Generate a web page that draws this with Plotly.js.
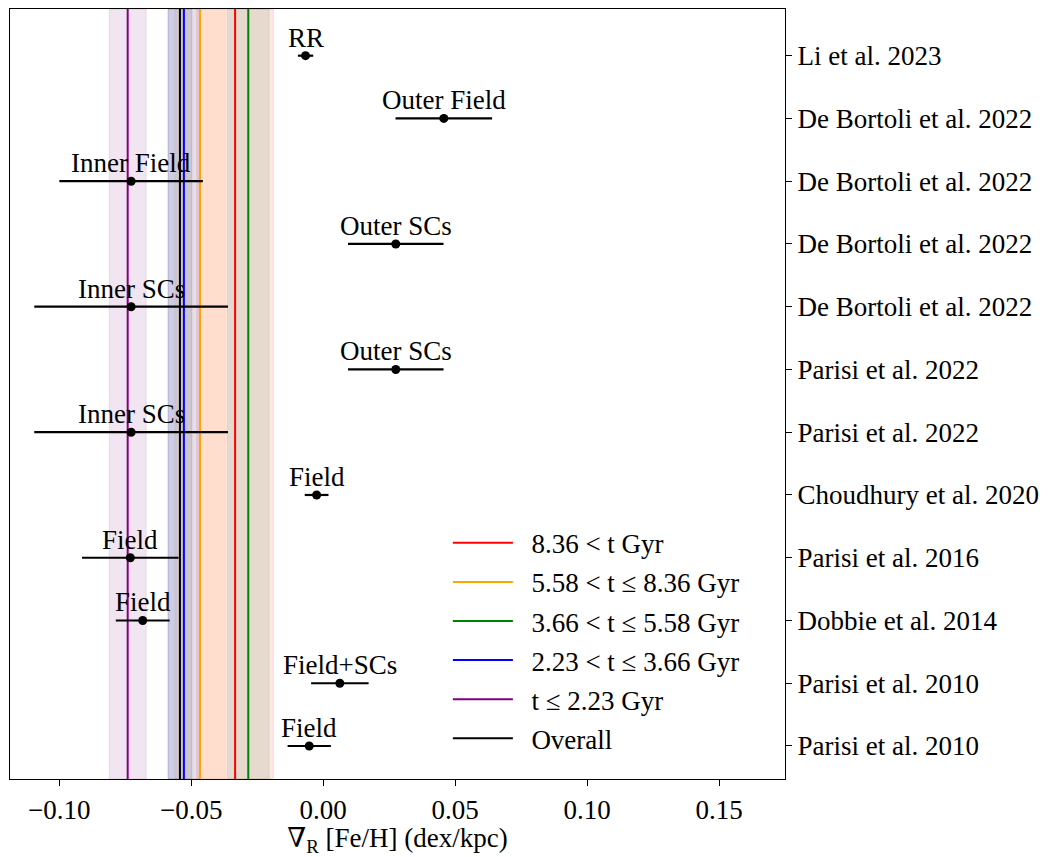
<!DOCTYPE html>
<html>
<head>
<meta charset="utf-8">
<script src="https://cdn.plot.ly/plotly-3.0.1.min.js"></script>
<style>
html, body { margin: 0; padding: 0; background: #fff; }
#divGraph { width: 1055px; height: 857px; }
</style>
</head>
<body>
<div id="divGraph"></div>
<script>
// literature gradients, one row per study (bottom row first)
var refs = ['Parisi et al. 2010', 'Parisi et al. 2010', 'Dobbie et al. 2014', 'Parisi et al. 2016',
            'Choudhury et al. 2020', 'Parisi et al. 2022', 'Parisi et al. 2022', 'De Bortoli et al. 2022',
            'De Bortoli et al. 2022', 'De Bortoli et al. 2022', 'De Bortoli et al. 2022', 'Li et al. 2023'];
var samples = ['Field', 'Field+SCs', 'Field', 'Field', 'Field', 'Inner SCs', 'Outer SCs',
               'Inner SCs', 'Outer SCs', 'Inner Field', 'Outer Field', 'RR'];
var grad = [-0.0053, 0.0063, -0.0684, -0.0731, -0.0025, -0.0728, 0.0275, -0.0728, 0.0275, -0.0728, 0.0457, -0.0067];
var gradErr = [0.0082, 0.0109, 0.0102, 0.0183, 0.0045, 0.0367, 0.0181, 0.0367, 0.0181, 0.0272, 0.0183, 0.0029];

// our age bins
var ageLabels = ['8.36 < t Gyr', '5.58 < t ≤ 8.36 Gyr', '3.66 < t ≤ 5.58 Gyr',
                 '2.23 < t ≤ 3.66 Gyr', 't ≤ 2.23 Gyr', 'Overall'];
var ageGrad = [-0.0334, -0.0467, -0.0284, -0.0528, -0.0741, -0.0543];
var ageErr = [0.0145, 0.0095, 0.0079, 0.0060, 0.0070, 0.0045];
var ageColors = ['red', 'orange', 'green', 'blue', 'purple', 'black'];
var ageRgb = ['255,0,0', '255,165,0', '0,128,0', '0,0,255', '128,0,128', '0,0,0'];

var xTicks = [-0.10, -0.05, 0.00, 0.05, 0.10, 0.15];

var FONT = "'Liberation Serif', 'DejaVu Serif', serif";
var FS = 27;

var rows = [];
for (var i = 0; i < grad.length; i++) rows.push(i);

var trace = {
    x: grad,
    y: rows,
    type: 'scatter',
    mode: 'markers',
    marker: { color: 'black', size: 9 },
    error_x: { type: 'data', array: gradErr, visible: true, color: 'black', thickness: 2.2, width: 0 },
    showlegend: false,
    hoverinfo: 'x+y'
};

var shapes = [];
// shaded +-1 sigma bands
for (var k = 0; k < ageGrad.length; k++) {
    shapes.push({
        type: 'rect', xref: 'x', yref: 'paper', layer: 'below',
        x0: ageGrad[k] - ageErr[k], x1: ageGrad[k] + ageErr[k], y0: 0, y1: 1,
        fillcolor: 'rgba(' + ageRgb[k] + ',0.1)',
        line: { color: 'rgba(' + ageRgb[k] + ',0.1)', width: 1 }
    });
}
// mean lines (these go in the legend)
for (var k = 0; k < ageGrad.length; k++) {
    shapes.push({
        type: 'line', xref: 'x', yref: 'paper', layer: 'below',
        x0: ageGrad[k], x1: ageGrad[k], y0: 0, y1: 1,
        line: { color: ageColors[k], width: 2 },
        showlegend: true, name: '\u00a0\u00a0' + ageLabels[k], legendgroup: 'g' + k
    });
}

var annotations = [];
for (var i = 0; i < grad.length; i++) {
    annotations.push({
        x: grad[i], y: rows[i], xref: 'x', yref: 'y',
        text: samples[i], showarrow: false,
        xanchor: 'center', yanchor: 'bottom', yshift: 1,
        font: { family: FONT, size: FS, color: 'black' }
    });
}

var layout = {
    width: 1055, height: 857,
    margin: { l: 10, r: 270, t: 9, b: 78 },
    paper_bgcolor: 'white', plot_bgcolor: 'white',
    font: { family: FONT, size: FS, color: 'black' },
    xaxis: {
        range: [-0.1187, 0.175],
        tickvals: xTicks, tickformat: '.2f',
        ticks: 'outside', ticklen: 6, tickwidth: 1, tickcolor: 'black',
        showline: true, mirror: true, linecolor: 'black', linewidth: 1.2,
        showgrid: false, zeroline: false,
        tickfont: { family: FONT, size: FS },
        title: { text: '∇<sub>R</sub> [Fe/H] (dex/kpc)', font: { family: FONT, size: FS }, standoff: 2 }
    },
    yaxis: {
        side: 'right',
        range: [-0.526, 11.744],
        tickvals: rows, ticktext: refs,
        ticks: 'outside', ticklen: 6, tickwidth: 1, tickcolor: 'black',
        showline: true, mirror: true, linecolor: 'black', linewidth: 1.2,
        showgrid: false, zeroline: false,
        tickfont: { family: FONT, size: FS }
    },
    shapes: shapes,
    annotations: annotations,
    showlegend: true,
    legend: {
        x: 0.565, y: 0.338, xanchor: 'left', yanchor: 'top',
        bgcolor: 'rgba(0,0,0,0)', borderwidth: 0,
        font: { family: FONT, size: FS },
        itemwidth: 60, tracegroupgap: 1
    }
};

Plotly.newPlot('divGraph', [trace], layout, { displayModeBar: false, staticPlot: true });
</script>
</body>
</html>
